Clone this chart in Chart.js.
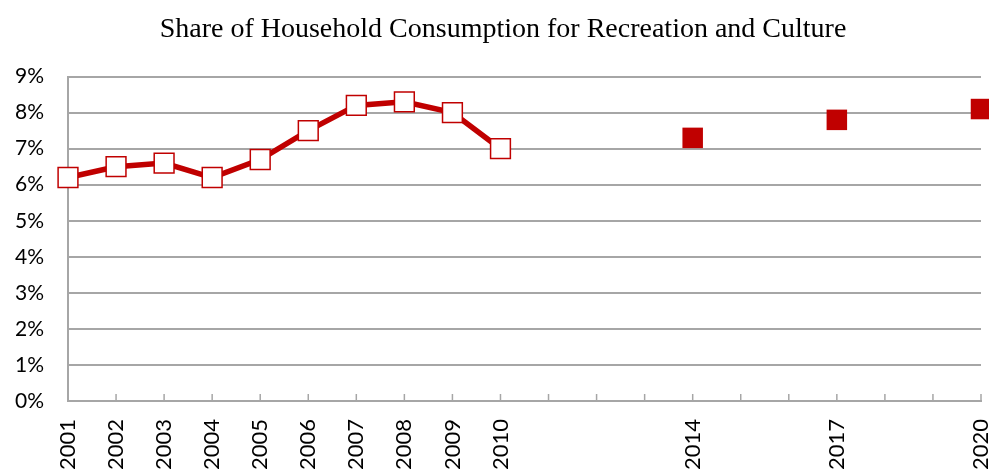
<!DOCTYPE html>
<html>
<head>
<meta charset="utf-8">
<script src="https://cdn.jsdelivr.net/npm/chart.js@4/dist/chart.umd.min.js"></script>
<style>
  html, body { margin: 0; padding: 0; background: #fff; overflow: hidden; }
  #wrap { width: 989px; height: 469px; }
</style>
</head>
<body>
<div id="wrap"><canvas id="chart"></canvas></div>
<script>
const years = ['2001','2002','2003','2004','2005','2006','2007','2008','2009','2010',
               '2011','2012','2013','2014','2015','2016','2017','2018','2019','2020'];
const shownYears = ['2001','2002','2003','2004','2005','2006','2007','2008','2009','2010','2014','2017','2020'];
const actual = [6.2, 6.5, 6.6, 6.2, 6.7, 7.5, 8.2, 8.3, 8.0, 7.0,
                null, null, null, null, null, null, null, null, null, null];
const forecast = [null, null, null, null, null, null, null, null, null, null,
                  null, null, null, 7.3, null, null, 7.8, null, null, 8.1];

const red = '#c00000';
const grey = '#a6a6a6';

// small tick marks pointing up into the plot, like the original
const innerTicks = {
    id: 'innerTicks',
    afterLayout(chart) {
        // title in the original sits a bit right of the canvas centre
        if (chart.titleBlock) {
            chart.titleBlock.left = 17;
            chart.titleBlock.right = chart.width;
        }
    },
    afterDraw(chart) {
        const x = chart.scales.x;
        const ctx = chart.ctx;
        const bottom = chart.chartArea.bottom;
        ctx.save();
        ctx.strokeStyle = grey;
        ctx.lineWidth = 1.5;
        x.ticks.forEach((t, i) => {
            const px = x.getPixelForTick(i);
            ctx.beginPath();
            ctx.moveTo(px, bottom);
            ctx.lineTo(px, bottom - 7);
            ctx.stroke();
        });
        ctx.restore();
    }
};

new Chart(document.getElementById('chart'), {
    type: 'line',
    data: {
        labels: years,
        datasets: [{
            data: actual,
            borderColor: red,
            borderWidth: 5.5,
            pointStyle: 'rect',
            pointRadius: 14,
            pointBorderWidth: 1.5,
            pointBorderColor: red,
            pointBackgroundColor: '#fff',
            spanGaps: false,
            clip: false
        }, {
            data: forecast,
            showLine: false,
            pointStyle: 'rect',
            pointRadius: 14.5,
            pointBorderWidth: 0,
            pointBackgroundColor: red,
            pointBorderColor: red,
            clip: false
        }]
    },
    options: {
        responsive: true,
        maintainAspectRatio: false,
        animation: false,
        layout: { autoPadding: false, padding: { left: 0, right: 8, top: 0, bottom: 0 } },
        plugins: {
            legend: { display: false },
            tooltip: { enabled: false },
            title: {
                display: true,
                text: 'Share of Household Consumption for Recreation and Culture',
                color: '#000',
                font: { family: 'Liberation Serif', size: 28, weight: 'normal' },
                padding: { top: 13, bottom: 30 }
            }
        },
        scales: {
            x: {
                offset: false,
                grid: { display: true, drawOnChartArea: false, drawTicks: false },
                border: { display: true, color: grey, width: 2 },
                ticks: {
                    autoSkip: false,
                    maxRotation: 90,
                    minRotation: 90,
                    padding: 18,
                    color: '#000',
                    font: { family: 'Lato', size: 22 },
                    callback: function (v, i) {
                        const y = years[i];
                        return shownYears.includes(y) ? y : '';
                    }
                },
                afterFit(scale) {
                    scale.height = 68;
                    scale.paddingLeft = 0;
                    scale.paddingRight = 0;
                }
            },
            y: {
                min: 0,
                max: 9,
                grid: { color: grey, lineWidth: 2, drawTicks: false },
                border: { display: true, color: grey, width: 2 },
                ticks: {
                    stepSize: 1,
                    padding: 24,
                    color: '#000',
                    font: { family: 'Lato', size: 21 },
                    callback: v => v + '%'
                },
                afterFit(scale) {
                    scale.width = 68;
                    scale.paddingTop = 0;
                    scale.paddingBottom = 0;
                }
            }
        }
    },
    plugins: [innerTicks]
});
</script>
</body>
</html>
